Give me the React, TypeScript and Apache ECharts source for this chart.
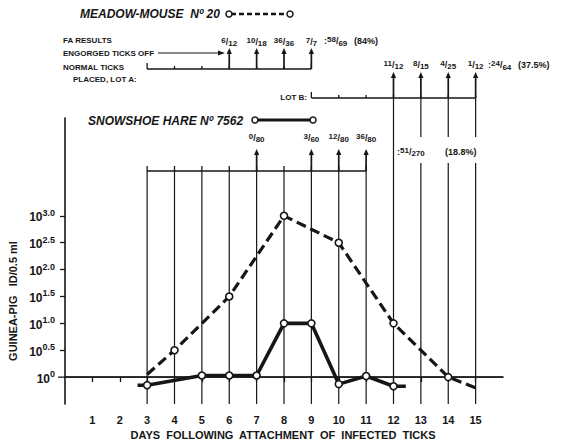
import React, { useEffect, useRef } from "react";
import * as echarts from "echarts";

const INK = "#161616";
const FONT = '"Liberation Sans", Arial, sans-serif';

// x-axis days and y-axis (log10 titre) labels
const dayTicks = [1, 2, 3, 4, 5, 6, 7, 8, 9, 10, 11, 12, 13, 14, 15];
const logTicks = [0, 0.5, 1.0, 1.5, 2.0, 2.5, 3.0];

// Meadow-mouse No 20 (dashed)
const mouseDays = [3, 4, 6, 8, 10, 12, 14, 15];
const mouseLog = [0.05, 0.5, 1.5, 3.0, 2.5, 1.0, 0.0, -0.2];
const mouseMarked = [false, true, true, true, true, true, true, false];

// Snowshoe hare No 7562 (solid)
const hareDays = [2.65, 3, 5, 6, 7, 8, 9, 10, 11, 12, 12.45];
const hareLog = [-0.15, -0.15, 0.03, 0.03, 0.03, 1.0, 1.0, -0.13, 0.02, -0.17, -0.17];
const hareMarked = [false, true, true, true, true, true, true, true, true, true, false];

// Tick lots and FA results
const lotADays = [3, 4, 5, 6, 7, 8, 9];
const lotBDays = [9, 10, 11, 12, 13, 14, 15];
const hareLotDays = [3, 4, 5, 6, 7, 8, 9, 10, 11];
const faDaysA = [6, 7, 8, 9];
const faLabelsA = ["6/12", "10/18", "36/36", "7/7"];
const faDaysB = [12, 13, 14, 15];
const faLabelsB = ["11/12", "8/15", "4/25", "1/12"];
const hareFaDays = [7, 9, 10, 11];
const hareFaLabels = ["0/80", "3/60", "12/80", "36/80"];
const gapDays = [13, 14, 15];

const Y_LOTA = 69;
const Y_ARROW_A = 48;
const Y_FRAC_A = 42;
const Y_LOTB = 98;
const Y_ARROW_B = 72;
const Y_FRAC_B = 65;
const Y_HARE_LOT = 171;
const Y_ARROW_H = 149;
const Y_FRAC_H = 138;

function frac(t: string) {
  const [n, d] = t.split("/");
  return `{n|${n}}{s|/}{d|${d}}`;
}
const fracRich = {
  n: { fontSize: 8, fontWeight: "bold", fontFamily: FONT, fill: INK, color: INK, verticalAlign: "top" },
  s: { fontSize: 9, fontWeight: "bold", fontFamily: FONT, fill: INK, color: INK, lineHeight: 11 },
  d: { fontSize: 8, fontWeight: "bold", fontFamily: FONT, fill: INK, color: INK, verticalAlign: "bottom" },
  t: { fontSize: 9, fontWeight: "bold", fontFamily: FONT, fill: INK, color: INK, lineHeight: 11 },
};

export default function App() {
  const ref = useRef<HTMLDivElement>(null);
  useEffect(() => {
    document.body.style.margin = "0";
    const chart = echarts.init(ref.current!, null, { renderer: "svg" });

    const renderItem = (_params: any, api: any) => {
      const X = (d: number) => api.coord([d, 0])[0];
      const Yv = (v: number) => api.coord([0, v])[1];
      const yBot = Yv(-0.5);
      const ch: any[] = [];
      const line = (x1: number, y1: number, x2: number, y2: number, w = 1.3) =>
        ch.push({ type: "line", shape: { x1, y1, x2, y2 }, style: { stroke: INK, lineWidth: w } });
      const arrowUp = (x: number, yBase: number, yTip: number) => {
        line(x, yBase, x, yTip + 4, 1.7);
        ch.push({ type: "polygon", shape: { points: [[x, yTip], [x - 2.6, yTip + 6], [x + 2.6, yTip + 6]] }, style: { fill: INK } });
      };
      const fracText = (x: number, y: number, t: string) =>
        ch.push({
          type: "text",
          x,
          y,
          style: { text: frac(t), rich: fracRich, textAlign: "center", textVerticalAlign: "middle", fill: INK },
        });

      // reference line at 10^0
      const y0 = Yv(0);
      line(X(0) - 7, y0, X(16), y0, 1.3);

      // vertical day lines
      hareLotDays.forEach((d) => line(X(d), Y_HARE_LOT, X(d), yBot, 1.2));
      faDaysB.forEach((d) => {
        if (gapDays.includes(d)) {
          line(X(d), Y_LOTB, X(d), 137, 1.2);
          line(X(d), 163, X(d), yBot, 1.2);
        } else {
          line(X(d), Y_LOTB, X(d), yBot, 1.2);
        }
      });

      // Lot A bracket
      line(X(lotADays[0]), Y_LOTA, X(lotADays[lotADays.length - 1]), Y_LOTA, 1.5);
      lotADays.forEach((d, i) => {
        const end = i === 0 || i === lotADays.length - 1;
        line(X(d), Y_LOTA, X(d), Y_LOTA - (end ? 6 : 3), 1.3);
      });
      faDaysA.forEach((d, i) => {
        arrowUp(X(d), Y_LOTA, Y_ARROW_A);
        fracText(X(d), Y_FRAC_A, faLabelsA[i]);
      });

      // Lot B bracket
      line(X(lotBDays[0]), Y_LOTB, X(lotBDays[lotBDays.length - 1]), Y_LOTB, 1.5);
      lotBDays.forEach((d, i) => {
        const end = i === 0;
        line(X(d), Y_LOTB, X(d), Y_LOTB - (end ? 6 : 3), 1.3);
      });
      faDaysB.forEach((d, i) => {
        arrowUp(X(d), Y_LOTB, Y_ARROW_B);
        fracText(X(d), Y_FRAC_B, faLabelsB[i]);
      });

      // Snowshoe hare bracket
      line(X(hareLotDays[0]), Y_HARE_LOT, X(hareLotDays[hareLotDays.length - 1]), Y_HARE_LOT, 1.5);
      hareLotDays.forEach((d) => line(X(d), Y_HARE_LOT, X(d), Y_HARE_LOT - 5, 1.3));
      hareFaDays.forEach((d, i) => {
        arrowUp(X(d), Y_HARE_LOT, Y_ARROW_H);
        fracText(X(d), Y_FRAC_H, hareFaLabels[i]);
      });

      return { type: "group", children: ch };
    };

    const txt = (x: number, y: number, text: string, size: number, extra: any = {}) => ({
      type: "text",
      x,
      y,
      style: {
        text,
        font: `bold ${size}px ${FONT}`,
        fill: INK,
        textAlign: "left",
        textVerticalAlign: "middle",
        ...extra,
      },
    });
    const richTxt = (x: number, y: number, text: string) => ({
      type: "text",
      x,
      y,
      style: { text, rich: fracRich, fill: INK, textAlign: "left", textVerticalAlign: "middle" },
    });

    const option: any = {
      animation: false,
      backgroundColor: "#ffffff",
      grid: { left: 65, top: 118, width: 438, height: 286 },
      xAxis: {
        type: "value",
        min: 0,
        max: 16,
        axisLine: { lineStyle: { color: INK, width: 1.6 } },
        axisTick: { customValues: dayTicks, length: 5, lineStyle: { color: INK, width: 1.3 } },
        axisLabel: {
          customValues: dayTicks,
          margin: 10,
          color: INK,
          fontFamily: FONT,
          fontWeight: "bold",
          fontSize: 11,
        },
        splitLine: { show: false },
      },
      yAxis: {
        type: "value",
        min: -0.5,
        max: 4.82,
        axisLine: { show: true, lineStyle: { color: INK, width: 1.6 } },
        axisTick: { customValues: logTicks.slice(1), length: 5, lineStyle: { color: INK, width: 1.3 } },
        axisLabel: {
          customValues: logTicks,
          margin: 10,
          formatter: (v: number) => (v === 0 ? "{b|10}{s|0}" : `{b|10}{s|${v.toFixed(1)}}`),
          rich: {
            b: { fontSize: 12, fontWeight: "bold", fontFamily: FONT, color: INK, lineHeight: 15, verticalAlign: "bottom" },
            s: { fontSize: 9, fontWeight: "bold", fontFamily: FONT, color: INK, verticalAlign: "top" },
          },
        },
        splitLine: { show: false },
      },
      series: [
        {
          type: "custom",
          silent: true,
          z: 1,
          data: [[0, 0]],
          renderItem,
        },
        {
          type: "line",
          name: "Meadow-mouse No 20",
          z: 3,
          data: mouseDays.map((d, i) => ({ value: [d, mouseLog[i]], symbol: mouseMarked[i] ? "circle" : "none" })),
          symbolSize: 7,
          itemStyle: { color: "#ffffff", borderColor: INK, borderWidth: 1.6 },
          lineStyle: { color: INK, width: 3.2, type: [10, 5] },
        },
        {
          type: "line",
          name: "Snowshoe hare No 7562",
          z: 4,
          data: hareDays.map((d, i) => ({ value: [d, hareLog[i]], symbol: hareMarked[i] ? "circle" : "none" })),
          symbolSize: 7,
          itemStyle: { color: "#ffffff", borderColor: INK, borderWidth: 1.6 },
          lineStyle: { color: INK, width: 3.6 },
        },
      ],
      graphic: [
        // titles and legends
        txt(80, 14, "MEADOW-MOUSE  Nº 20", 12, { font: `italic bold 12px ${FONT}` }),
        { type: "line", shape: { x1: 231, y1: 14, x2: 288, y2: 14 }, style: { stroke: INK, lineWidth: 2.5, lineDash: [5, 3] } },
        { type: "circle", shape: { cx: 229, cy: 14, r: 3 }, style: { fill: "#fff", stroke: INK, lineWidth: 1.5 } },
        { type: "circle", shape: { cx: 290, cy: 14, r: 3 }, style: { fill: "#fff", stroke: INK, lineWidth: 1.5 } },
        txt(88, 121, "SNOWSHOE HARE Nº 7562", 12, { font: `italic bold 12px ${FONT}` }),
        { type: "line", shape: { x1: 257, y1: 120, x2: 311, y2: 120 }, style: { stroke: INK, lineWidth: 3 } },
        { type: "circle", shape: { cx: 255, cy: 120, r: 3 }, style: { fill: "#fff", stroke: INK, lineWidth: 1.5 } },
        { type: "circle", shape: { cx: 313, cy: 120, r: 3 }, style: { fill: "#fff", stroke: INK, lineWidth: 1.5 } },
        // row labels
        txt(63, 40, "FA RESULTS", 8),
        txt(63, 53, "ENGORGED TICKS OFF", 8),
        { type: "line", shape: { x1: 158, y1: 53, x2: 219, y2: 53 }, style: { stroke: INK, lineWidth: 1.2 } },
        { type: "polygon", shape: { points: [[225, 53], [218, 50.5], [218, 55.5]] }, style: { fill: INK } },
        txt(63, 67, "NORMAL TICKS", 8),
        txt(73, 79, "PLACED, LOT A:", 8),
        txt(307, 97, "LOT B:", 8, { textAlign: "right" }),
        richTxt(324, 41, "{t|:}{n|58}{s|/}{d|69}  {t|(84%)}"),
        richTxt(488, 65, "{t|:}{n|24}{s|/}{d|64}  {t|(37.5%)}"),
        richTxt(397, 152, "{t|:}{n|51}{s|/}{d|270}"),
        txt(445, 152, "(18.8%)", 9),
        // axis names
        txt(13, 301, "GUINEA-PIG   ID/0.5 ml", 11, { textAlign: "center" }),
        txt(283, 435, "DAYS  FOLLOWING  ATTACHMENT  OF  INFECTED  TICKS", 11, { textAlign: "center" }),
      ],
    };
    // rotate y-axis title
    option.graphic[option.graphic.length - 2].rotation = Math.PI / 2;
    chart.setOption(option);
    return () => chart.dispose();
  }, []);
  return <div ref={ref} style={{ position: "fixed", left: 0, top: 0, width: 569, height: 444, background: "#fff" }} />;
}
